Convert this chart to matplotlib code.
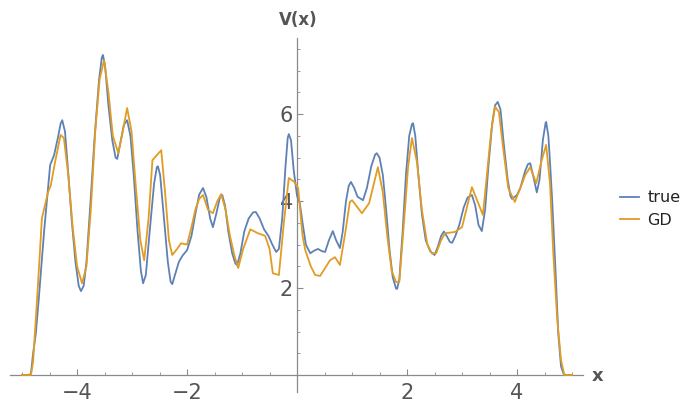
import matplotlib
matplotlib.use("Agg")
import matplotlib.pyplot as plt
from matplotlib.ticker import FixedLocator, MultipleLocator

# potential V(x): exact curve
x_true = [-5.0, -4.9, -4.84, -4.8, -4.75, -4.7, -4.65, -4.6, -4.55, -4.49, -4.42, -4.35,
          -4.3, -4.27, -4.22, -4.17, -4.1, -4.03, -3.97, -3.93, -3.88, -3.83, -3.76,
          -3.68, -3.6, -3.55, -3.53, -3.49, -3.43, -3.36, -3.3, -3.27, -3.22, -3.15,
          -3.09, -3.03, -2.97, -2.9, -2.84, -2.8, -2.75, -2.68, -2.6, -2.55, -2.53,
          -2.49, -2.42, -2.35, -2.3, -2.27, -2.22, -2.15, -2.08, -2.0, -1.92, -1.85,
          -1.78, -1.71, -1.65, -1.58, -1.53, -1.47, -1.4, -1.36, -1.31, -1.25, -1.18,
          -1.12, -1.09, -1.03, -0.96, -0.88, -0.8, -0.75, -0.68, -0.6, -0.52, -0.45,
          -0.38, -0.33, -0.27, -0.21, -0.17, -0.15, -0.11, -0.06, 0.0, 0.05, 0.1,
          0.16, 0.24, 0.31, 0.38, 0.45, 0.51, 0.58, 0.65, 0.71, 0.78, 0.83, 0.89,
          0.94, 0.98, 1.04, 1.1, 1.2, 1.27, 1.35, 1.42, 1.45, 1.5, 1.56, 1.62, 1.68,
          1.74, 1.8, 1.82, 1.86, 1.92, 1.98, 2.04, 2.09, 2.11, 2.15, 2.2, 2.27, 2.34,
          2.42, 2.5, 2.56, 2.62, 2.67, 2.72, 2.78, 2.82, 2.88, 2.95, 3.03, 3.1, 3.18,
          3.24, 3.3, 3.36, 3.42, 3.48, 3.55, 3.6, 3.65, 3.7, 3.76, 3.83, 3.88, 3.91,
          3.96, 4.0, 4.06, 4.15, 4.2, 4.24, 4.3, 4.36, 4.41, 4.47, 4.52, 4.53, 4.57,
          4.6, 4.64, 4.7, 4.75, 4.8, 4.85, 4.9, 5.0]
v_true = [0.0, 0.0, 0.02, 0.5, 0.96, 1.7, 2.5, 3.3, 4.0, 4.83, 5.05, 5.45,
          5.78, 5.86, 5.6, 4.8, 3.6, 2.6, 2.05, 1.93, 2.05, 2.6, 3.9,
          5.5, 6.8, 7.3, 7.36, 7.1, 6.2, 5.4, 5.0, 4.97, 5.3, 5.75,
          5.86, 5.5, 4.6, 3.3, 2.4, 2.11, 2.3, 3.3, 4.4, 4.78, 4.8,
          4.6, 3.6, 2.6, 2.15, 2.09, 2.3, 2.6, 2.75, 2.87, 3.2, 3.7,
          4.15, 4.3, 4.1, 3.6, 3.4, 3.7, 4.1, 4.14, 3.9, 3.3, 2.8,
          2.56, 2.53, 2.8, 3.3, 3.6, 3.74, 3.75, 3.6, 3.35, 3.2, 3.0,
          2.83, 2.9, 3.6, 4.8, 5.45, 5.54, 5.4, 4.7, 4.12, 3.95, 3.5,
          3.0, 2.8, 2.86, 2.9, 2.85, 2.83, 3.1, 3.31, 3.1, 2.92, 3.3, 4.0,
          4.35, 4.44, 4.3, 4.1, 4.02, 4.3, 4.8, 5.07, 5.1, 5.0, 4.6, 3.8, 2.9,
          2.25, 1.99, 1.98, 2.2, 3.3, 4.6, 5.5, 5.77, 5.79, 5.5, 4.7, 3.7, 3.1,
          2.85, 2.76, 2.95, 3.2, 3.3, 3.2, 3.06, 3.04, 3.2, 3.45, 3.85, 4.08, 4.14,
          3.9, 3.45, 3.31, 3.8, 4.8, 5.8, 6.2, 6.28, 6.1, 5.3, 4.5, 4.12, 4.05,
          4.1, 4.14, 4.3, 4.7, 4.85, 4.87, 4.55, 4.2, 4.5, 5.4, 5.8, 5.82, 5.5,
          4.9, 4.0, 2.4, 0.96, 0.2, 0.02, 0.0, 0.0]

# potential V(x): gradient-descent reconstruction
x_gd = [-5.0, -4.84, -4.8, -4.72, -4.64, -4.53, -4.48, -4.4, -4.3, -4.24, -4.16,
        -4.08, -4.0, -3.91, -3.83, -3.75, -3.67, -3.59, -3.51, -3.43, -3.35, -3.25,
        -3.17, -3.09, -3.01, -2.93, -2.85, -2.78, -2.7, -2.63, -2.47, -2.4, -2.33,
        -2.27, -2.18, -2.11, -2.0, -1.92, -1.85, -1.78, -1.71, -1.62, -1.53, -1.45,
        -1.38, -1.3, -1.22, -1.14, -1.07, -0.98, -0.85, -0.71, -0.58, -0.5, -0.44,
        -0.33, -0.24, -0.15, -0.05, 0.02, 0.1, 0.15, 0.25, 0.33, 0.42, 0.6, 0.69,
        0.78, 0.88, 0.96, 1.0, 1.18, 1.31, 1.47, 1.56, 1.64, 1.72, 1.8, 1.86, 1.95,
        2.02, 2.09, 2.18, 2.27, 2.37, 2.45, 2.53, 2.62, 2.69, 2.87, 3.0, 3.18, 3.38,
        3.46, 3.53, 3.6, 3.67, 3.75, 3.84, 3.96, 4.06, 4.15, 4.24, 4.35, 4.44, 4.53,
        4.6, 4.66, 4.73, 4.8, 4.86, 5.0]
v_gd = [0.0, 0.0, 0.3, 1.9, 3.6, 4.2, 4.35, 4.9, 5.52, 5.45, 4.6,
        3.4, 2.5, 2.11, 2.5, 3.8, 5.6, 6.8, 7.24, 6.5, 5.5, 5.1,
        5.6, 6.14, 5.6, 4.3, 3.1, 2.64, 3.6, 4.94, 5.17, 4.2, 3.1,
        2.76, 2.9, 3.03, 3.0, 3.4, 3.8, 4.05, 4.14, 3.8, 3.72, 4.0,
        4.16, 3.8, 3.2, 2.75, 2.46, 2.9, 3.35, 3.26, 3.2, 2.9, 2.34,
        2.3, 3.5, 4.53, 4.44, 4.3, 3.2, 2.87, 2.5, 2.3, 2.28, 2.64, 2.71,
        2.53, 3.3, 3.98, 4.02, 3.72, 3.95, 4.78, 4.2, 3.2, 2.4, 2.14, 2.14, 3.6,
        4.8, 5.45, 4.9, 3.8, 3.0, 2.8, 2.8, 3.1, 3.26, 3.29, 3.4, 4.32, 3.68,
        4.7, 5.6, 6.17, 6.05, 5.2, 4.3, 3.98, 4.3, 4.6, 4.78, 4.41, 4.9, 5.29,
        4.4, 2.8, 1.3, 0.35, 0.0, 0.0]

x_ticks = [-4, -2, 2, 4]
y_ticks = [2, 4, 6]
series_labels = ["true", "GD"]

BLUE = "#5E81B5"
ORANGE = "#E19C24"
AXIS_GRAY = "#8a8a8a"
LABEL_GRAY = "#555555"

plt.rcParams["font.family"] = ["DejaVu Sans"]

fig = plt.figure(figsize=(6.85, 4.03), dpi=100)
ax = fig.add_axes([10 / 685, (403 - 392) / 403, 573 / 685, (392 - 38) / 403])

l1, = ax.plot(x_true, v_true, color=BLUE, lw=1.3, label=series_labels[0], zorder=3)
l2, = ax.plot(x_gd, v_gd, color=ORANGE, lw=1.3, label=series_labels[1], zorder=4)

ax.set_xlim(-5.22, 5.2)
ax.set_ylim(-0.39, 7.75)

for side in ("top", "right"):
    ax.spines[side].set_visible(False)
ax.spines["left"].set_position(("data", 0))
ax.spines["bottom"].set_position(("data", 0))
for side in ("left", "bottom"):
    ax.spines[side].set_color(AXIS_GRAY)
    ax.spines[side].set_linewidth(0.9)

ax.xaxis.set_major_locator(FixedLocator(x_ticks))
ax.yaxis.set_major_locator(FixedLocator(y_ticks))
ax.xaxis.set_minor_locator(MultipleLocator(0.5))
ax.yaxis.set_minor_locator(MultipleLocator(0.5))
ax.set_xticklabels(["\u22124", "\u22122", "2", "4"])
ax.set_yticklabels([str(t) for t in y_ticks])

ax.tick_params(axis="both", which="major", direction="in", length=4, width=0.8,
               color=AXIS_GRAY, labelcolor=LABEL_GRAY, labelsize=15)
ax.tick_params(axis="both", which="minor", direction="in", length=2.5, width=0.6,
               color=AXIS_GRAY)
ax.tick_params(axis="x", which="major", pad=6)
ax.tick_params(axis="y", which="major", pad=3)

ax.patch.set_visible(False)

fig.text(298 / 685, 1 - 20 / 403, "V(x)", ha="center", va="center",
         fontsize=12, fontweight="bold", color=LABEL_GRAY)
fig.text(598 / 685, 1 - 376 / 403, "x", ha="center", va="center",
         fontsize=13, fontweight="bold", color=LABEL_GRAY)

fig.legend(handles=[l1, l2], loc="center left", bbox_to_anchor=(620 / 685, 1 - 209 / 403),
           frameon=False, fontsize=11.5, handlelength=1.2, handletextpad=0.5,
           labelspacing=0.45, borderaxespad=0, borderpad=0, labelcolor="#222222")

fig.savefig("out.png", dpi=100)
